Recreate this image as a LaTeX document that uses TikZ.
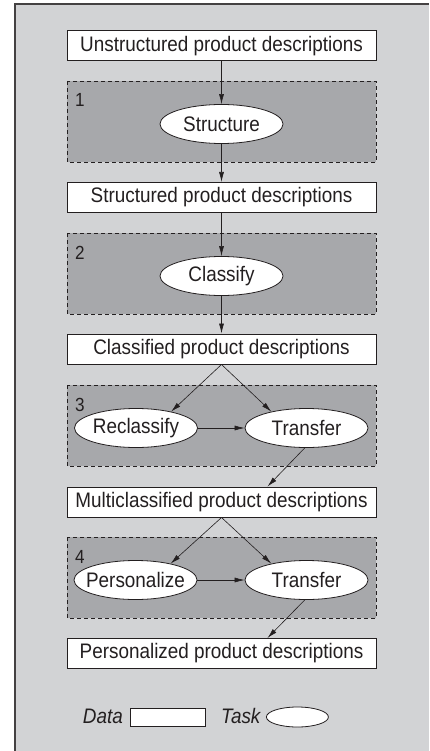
\documentclass[tikz,border=0pt]{standalone}
\usepackage{fontspec}
\setmainfont{Liberation Sans}[FakeStretch=0.9]
\usetikzlibrary{arrows.meta, positioning, shapes.geometric, calc}

\definecolor{framebg}{RGB}{210,211,213}
\definecolor{stagebg}{RGB}{167,168,171}
\definecolor{ink}{RGB}{35,31,32}

\tikzset{
  data/.style={draw=ink, fill=white, line width=1pt, minimum width=309pt,
    minimum height=30pt, inner sep=0pt, text=ink},
  task/.style={ellipse, draw=ink, fill=white, line width=0.8pt,
    minimum width=123pt, minimum height=39pt, inner xsep=-15pt, inner ysep=0pt, text=ink},
  stage/.style={draw=ink, fill=stagebg, dash pattern=on 4pt off 3pt, line width=0.8pt},
  flow/.style={-{Latex[length=10pt,width=5pt]}, draw=ink, line width=0.6pt},
  keylabel/.style={inner sep=0pt, text=ink, font=\fontsize{21}{24}\selectfont\itshape},
}

\begin{document}
\begin{tikzpicture}[x=1pt, y=-1pt, font=\fontsize{21}{24}\selectfont]
  \useasboundingbox (0,0) rectangle (429,751);

  % Frame
  \fill[framebg] (15,4) rectangle (429,751);
  \draw[ink!85, line width=2pt] (15,751) -- (15,4) -- (429,4);

  % Stages
  \foreach \n/\y in {1/81, 2/233, 3/385, 4/537} {
    \draw[stage] (67,\y) rectangle (376,\y+81);
    \node[anchor=base west, inner sep=0pt, text=ink, font=\fontsize{19}{22}\selectfont]
      (num\n) at (75,\y+26) {\n};
  }

  % Data
  \node[data] (unstr) at (221.5,46) {Unstructured product descriptions};
  \node[data] (struc) at (221.5,197.5) {Structured product descriptions};
  \node[data] (class) at (221.5,349) {Classified product descriptions};
  \node[data] (multi) at (221.5,502) {Multiclassified product descriptions};
  \node[data] (perso) at (221.5,653.5) {Personalized product descriptions};

  % Tasks
  \node[task] (structure) at (221.5,124) {Structure};
  \node[task] (classify) at (221.5,276) {Classify};
  \node[task] (reclassify) at (136,428) {Reclassify};
  \node[task] (transferA) at (306.5,428) {Transfer};
  \node[task] (personalize) at (135.5,580) {Personalize};
  \node[task] (transferB) at (306.5,580) {Transfer};

  % Flows
  \draw[flow] (unstr) -- (structure);
  \draw[flow] (structure) -- (struc);
  \draw[flow] (struc) -- (classify);
  \draw[flow] (classify) -- (class);
  \draw[flow] (class.south) -- (reclassify.25);
  \draw[flow] (class.south) -- (transferA.155);
  \draw[flow] (reclassify) -- (transferA);
  \draw[flow] (transferA.265) -- ($(multi.north)+(46,0)$);
  \draw[flow] (multi.south) -- (personalize.25);
  \draw[flow] (multi.south) -- (transferB.155);
  \draw[flow] (personalize) -- (transferB);
  \draw[flow] (transferB.265) -- ($(perso.north)+(46,0)$);

  % Legend
  \node[keylabel, anchor=east] (datalbl) at (123,716) {Data};
  \node[draw=ink, fill=white, line width=0.8pt, minimum width=75pt, minimum height=18pt,
    inner sep=0pt, anchor=west] (datakey) at (130,717) {};
  \node[keylabel, anchor=west] (tasklbl) at (221,716) {Task};
  \node[ellipse, draw=ink, fill=white, line width=0.8pt, minimum width=62pt,
    minimum height=20pt, inner sep=0pt, anchor=west] (taskkey) at (266,717) {};
\end{tikzpicture}
\end{document}
